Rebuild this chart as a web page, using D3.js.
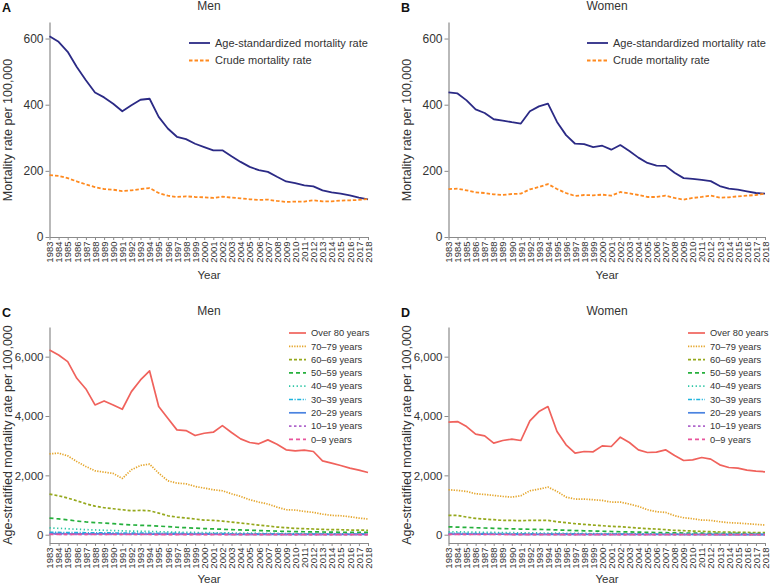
<!DOCTYPE html>
<html><head><meta charset="utf-8">
<script src="https://cdn.jsdelivr.net/npm/d3@7"></script>
<style>
body{margin:0;background:#fff;}
svg{display:block;font-family:"Liberation Sans",Arial,sans-serif;}
</style></head><body>
<svg id="c" width="770" height="585"></svg>
<script>
const years = [1983,1984,1985,1986,1987,1988,1989,1990,1991,1992,1993,1994,1995,1996,1997,1998,1999,2000,2001,2002,2003,2004,2005,2006,2007,2008,2009,2010,2011,2012,2013,2014,2015,2016,2017,2018];

// Panel A/B series
const menAgeStd = [607,590,560,514,474,437,422,403,380,398,415,418,363,328,303,296,282,272,262,262,244,227,212,202,197,182,168,163,156,153,141,135,131,126,119,114];
const menCrude = [187,185,178,168,159,151,145,143,139,141,145,148,133,125,121,123,121,120,118,122,119,117,114,112,113,109,106,107,107,111,108,108,110,111,112,115];
const womenAgeStd = [437,434,413,386,375,356,352,347,343,380,395,403,348,308,282,281,272,276,264,278,260,240,224,216,215,194,178,176,173,169,154,146,143,138,133,131];
const womenCrude = [145,146,141,135,133,129,127,130,131,144,151,160,145,133,124,127,126,128,125,136,132,127,121,121,125,118,113,118,121,125,119,120,123,125,127,131];

// Panel C/D series (men)
const men80 = [6224,6056,5832,5271,4912,4374,4508,4374,4228,4822,5215,5518,4318,3925,3533,3510,3342,3420,3454,3678,3443,3230,3107,3062,3196,3050,2860,2826,2849,2804,2490,2411,2333,2243,2176,2097];
const men70 = [2725,2748,2658,2467,2299,2153,2108,2064,1895,2187,2333,2378,2075,1817,1738,1716,1626,1570,1514,1480,1379,1290,1178,1099,1032,931,841,830,785,751,695,650,639,606,561,527];
const men60 = [1368,1312,1234,1144,1043,964,908,875,841,807,819,807,729,639,594,561,527,493,482,460,426,392,359,325,292,258,236,213,202,191,179,168,168,157,157,146];
const men50 = [560,530,500,460,430,410,390,370,350,330,315,305,290,270,250,235,220,205,195,185,170,160,150,140,130,120,110,105,100,95,90,85,82,80,78,75];
const men40 = [230,215,200,185,170,160,150,140,130,120,115,110,100,92,85,80,75,70,66,62,58,55,52,49,46,43,40,38,36,34,33,32,31,30,29,28];
const men30 = [80,75,72,70,66,62,60,58,55,52,50,50,47,44,42,40,38,36,35,34,32,31,30,29,28,27,26,25,24,24,23,22,22,21,21,20];
const men20 = [35,33,32,30,28,27,26,25,24,23,22,22,21,20,19,18,17,16,15,15,14,14,13,13,12,12,11,11,11,10,10,10,10,9,9,9];
const men10 = [15,14,14,13,12,12,11,11,10,10,10,9,9,9,8,8,8,7,7,7,7,6,6,6,6,6,5,5,5,5,5,5,5,5,5,5];
const men0 = [10,9,9,8,8,7,7,7,6,6,6,6,5,5,5,5,5,4,4,4,4,4,4,3,3,3,3,3,3,3,3,3,3,2,2,2];

// Panel C/D series (women)
const women80 = [3791,3813,3645,3387,3331,3084,3174,3219,3174,3836,4150,4318,3477,3028,2748,2804,2793,2994,2972,3286,3107,2860,2770,2781,2860,2669,2501,2523,2602,2546,2355,2265,2243,2176,2142,2120];
const women70 = [1514,1492,1458,1379,1357,1323,1290,1267,1312,1480,1536,1604,1458,1267,1200,1200,1178,1155,1099,1099,1032,953,841,774,751,639,572,538,493,482,437,404,392,370,348,325];
const women60 = [650,650,594,550,527,505,482,482,471,482,482,482,437,404,370,348,325,303,280,269,247,224,202,191,168,146,135,123,112,101,90,90,78,78,67,67];
const women50 = [265,255,245,235,225,215,205,198,190,183,178,172,160,150,140,132,124,116,108,100,93,86,80,74,68,62,57,53,50,47,45,43,42,40,39,38];
const women40 = [100,95,90,85,80,76,72,68,64,60,58,56,52,48,45,42,40,38,36,34,32,30,28,27,26,25,24,23,22,21,20,19,18,17,16,15];
const women30 = [45,43,41,39,37,35,33,32,31,30,29,28,27,26,25,24,23,22,21,20,19,18,17,16,15,15,14,13,13,12,12,11,11,10,10,10];
const women20 = [20,19,18,17,16,15,15,14,13,13,12,12,11,11,10,10,9,9,9,8,8,8,7,7,7,6,6,6,6,6,5,5,5,5,5,5];
const women10 = [10,10,9,9,8,8,7,7,7,6,6,6,6,5,5,5,5,5,4,4,4,4,4,4,3,3,3,3,3,3,3,3,3,3,3,3];
const women0 = [8,8,7,7,6,6,6,5,5,5,5,5,4,4,4,4,4,4,3,3,3,3,3,3,3,3,3,3,3,3,3,3,3,3,3,3];

const rateLabels = ["Age-standardized mortality rate","Crude mortality rate"];
const ageLabels = ["Over 80 years","70\u201379 years","60\u201369 years","50\u201359 years","40\u201349 years","30\u201339 years","20\u201329 years","10\u201319 years","0\u20139 years"];
const yTicksTop = [0,200,400,600];
const yTicksBottom = [0,2000,4000,6000];

const rateStyles = [
  {color:"#2b2a85", dash:null, w:1.8},
  {color:"#ff8a1f", dash:"3.5,2", w:1.8}
];
const ageStyles = [
  {color:"#f0625c", dash:null, w:1.7},
  {color:"#e5a62c", dash:"1.3,1.3", w:1.7},
  {color:"#95a81c", dash:"3,2", w:1.7},
  {color:"#26b03d", dash:"4,3", w:1.7},
  {color:"#2ec6a6", dash:"1.3,2.5", w:1.7},
  {color:"#1eb4dd", dash:"4,1.5,1.2,1.5", w:1.7},
  {color:"#4a83e0", dash:null, w:1.7},
  {color:"#b067cc", dash:"2.5,2.5", w:1.7},
  {color:"#e8559c", dash:"4,3", w:1.7}
];

const svg = d3.select("#c");
const txt = "#333";
const axisCol = "#8a8a8a";

function panel(opt){
  const g = svg.append("g");
  const x = d3.scaleLinear().domain([1983,2018]).range([opt.left,opt.right]);
  const y = d3.scaleLinear().domain(opt.ydom).range([opt.bottom,opt.top]);

  // y axis
  const ya = g.append("g").attr("transform",`translate(${opt.left},0)`)
    .call(d3.axisLeft(y).tickValues(opt.yticks).tickSize(4).tickSizeOuter(0).tickFormat(d3.format(",")));
  ya.select(".domain").attr("stroke",axisCol).attr("stroke-width",1.2);
  ya.selectAll(".tick line").attr("stroke",axisCol);
  ya.selectAll(".tick text").attr("fill",txt).style("font-size",opt.ytickSize).attr("x",-6);

  // x axis
  const xa = g.append("g").attr("transform",`translate(0,${opt.bottom})`)
    .call(d3.axisBottom(x).tickValues(years).tickSize(3).tickSizeOuter(0).tickFormat(d3.format("d")));
  xa.select(".domain").attr("stroke",axisCol).attr("stroke-width",1.2);
  xa.selectAll(".tick line").attr("stroke",axisCol);
  xa.selectAll(".tick text").attr("fill",txt).style("font-size","9.5px")
    .attr("transform","rotate(-90)").attr("x",-4.5).attr("y",0).attr("dy","0.34em").style("text-anchor","end");

  // titles
  g.append("text").attr("x",opt.titleX).attr("y",opt.top-12).attr("text-anchor","middle")
    .attr("fill",txt).style("font-size","12px").text(opt.title);
  g.append("text").attr("x",opt.letterX).attr("y",opt.top-10).attr("fill","#111")
    .style("font-size","12.5px").style("font-weight","bold").text(opt.letter);
  g.append("text").attr("x",opt.titleX).attr("y",opt.yearY).attr("text-anchor","middle")
    .attr("fill",txt).style("font-size","11.5px").text("Year");
  g.append("text").attr("transform",`translate(${opt.ylabX},${opt.ylabY}) rotate(-90)`)
    .attr("text-anchor","middle").attr("fill",txt).style("font-size",opt.ylabSize).text(opt.ylab);

  // lines
  const line = d3.line().x((d,i)=>x(years[i])).y(d=>y(d));
  opt.series.forEach((s,i)=>{
    const st = opt.styles[i];
    g.append("path").datum(s).attr("d",line).attr("fill","none")
      .attr("stroke",st.color).attr("stroke-width",st.w)
      .attr("stroke-dasharray",st.dash).attr("stroke-linejoin","round");
  });

  // legend
  const lg = g.append("g");
  opt.labels.forEach((lab,i)=>{
    const st = opt.styles[i];
    const yy = opt.legY + i*opt.legStep;
    lg.append("line").attr("x1",opt.legX).attr("x2",opt.legX+opt.legLen).attr("y1",yy).attr("y2",yy)
      .attr("stroke",st.color).attr("stroke-width",st.w).attr("stroke-dasharray",st.dash);
    lg.append("text").attr("x",opt.legX+opt.legLen+5).attr("y",yy).attr("dy","0.35em")
      .attr("fill",txt).style("font-size",opt.legSize).text(lab);
  });
}

const topCfg = {top:22,bottom:237,ydom:[0,650],yticks:yTicksTop,yearY:279,ytickSize:"12px",
  ylab:"Mortality rate per 100,000",ylabSize:"12.5px",ylabY:130,
  labels:rateLabels,styles:rateStyles,legStep:17.5,legY:43,legLen:21,legSize:"11px"};
const botCfg = {top:327,bottom:543,ydom:[-280,7000],yticks:yTicksBottom,yearY:583,ytickSize:"11.5px",
  ylab:"Age-stratified mortality rate per 100,000",ylabSize:"12.5px",ylabY:435,
  labels:ageLabels,styles:ageStyles,legStep:13.3,legY:333,legLen:17,legSize:"9.3px"};

panel(Object.assign({},topCfg,{left:49.5,right:368,titleX:209,letterX:2,letter:"A",title:"Men",ylabX:12,
  series:[menAgeStd,menCrude],legX:189}));
panel(Object.assign({},topCfg,{left:448.5,right:765,titleX:607,letterX:401,letter:"B",title:"Women",ylabX:411,
  series:[womenAgeStd,womenCrude],legX:587}));
panel(Object.assign({},botCfg,{left:49.5,right:368,titleX:209,letterX:2,letter:"C",title:"Men",ylabX:12,
  series:[men80,men70,men60,men50,men40,men30,men20,men10,men0],legX:289}));
panel(Object.assign({},botCfg,{left:448.5,right:765,titleX:607,letterX:401,letter:"D",title:"Women",ylabX:411,
  series:[women80,women70,women60,women50,women40,women30,women20,women10,women0],legX:688}));
</script>
</body></html>
